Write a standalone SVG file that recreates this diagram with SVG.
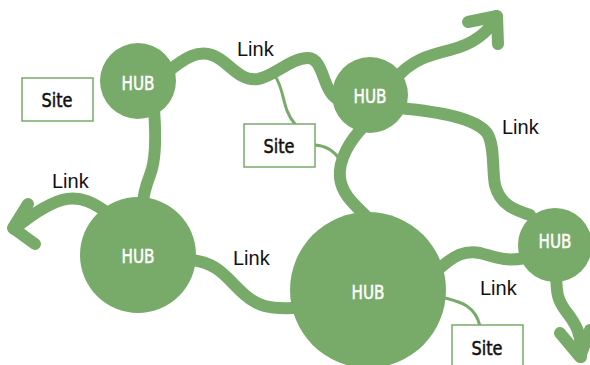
<svg xmlns="http://www.w3.org/2000/svg" width="590" height="365" viewBox="0 0 590 365">
<style>
.lk{fill:none;stroke:#78ab69;stroke-width:12;stroke-linecap:round;stroke-linejoin:round}
.th{fill:none;stroke:#78ab69;stroke-width:3;stroke-linecap:round}
.hub{fill:#78ab69}
.ht{fill:#fff;stroke:#fff;stroke-width:0.5;font-family:"DejaVu Sans Condensed","DejaVu Sans",sans-serif;font-size:20px;text-anchor:middle}
.box{fill:#fff;stroke:#78ab69;stroke-width:1.5}
.st{fill:#111;stroke:#111;stroke-width:0.5;font-family:"DejaVu Sans Condensed","DejaVu Sans",sans-serif;font-size:20px;text-anchor:middle}
.lt{fill:#111;font-family:"Liberation Sans",Arial,sans-serif;font-size:20px}
</style>
<rect width="590" height="365" fill="#fff"/>
<g id="connectors">
<path class="lk" d="M170,70 C185,58 198,50 212,55 C228,60 238,82 258,79 C275,76 290,58 308,58 C325,58 322,95 340,100"/>
<path class="lk" d="M154,110 C156,135 156,160 150,175 C145,188 143,195 143,205"/>
<path class="lk" d="M110,215 C95,203 80,195 62,200 C45,205 28,218 14,229"/>
<path class="lk" d="M28,204 L13,228 L35,244"/>
<path class="lk" d="M190,260 C225,262 232,290 255,302 C270,310 285,308 300,308"/>
<path class="lk" d="M365,125 C350,140 338,160 340,178 C342,195 355,205 370,220"/>
<path class="lk" d="M395,80 C410,60 430,55 450,50 C475,44 488,32 497,17"/>
<path class="lk" d="M468,22 L497,16 L498,44"/>
<path class="lk" d="M400,108 C440,112 475,118 487,133 C495,145 492,170 495,185 C500,205 515,210 530,215"/>
<path class="lk" d="M440,268 C455,255 465,250 480,253 C495,257 505,262 525,258"/>
<path class="lk" d="M556,275 C557,290 556,298 565,310 C577,325 582,335 581,357"/>
<path class="lk" d="M560,333 L580,357 L590,330"/>
<path class="th" d="M275,76 C285,90 282,110 295,124"/>
<path class="th" d="M315,145 C328,146 335,152 340,160"/>
<path class="th" d="M445,298 C460,302 475,305 480,326"/>
</g>
<g id="hub1"><circle class="hub" cx="138" cy="81" r="38"/><text class="ht" x="138" y="90" textLength="33" lengthAdjust="spacingAndGlyphs">HUB</text></g>
<g id="hub2"><circle class="hub" cx="370" cy="95" r="38"/><text class="ht" x="370" y="103" textLength="33" lengthAdjust="spacingAndGlyphs">HUB</text></g>
<g id="hub3"><circle class="hub" cx="138" cy="255" r="58"/><text class="ht" x="138" y="263" textLength="33" lengthAdjust="spacingAndGlyphs">HUB</text></g>
<g id="hub4"><circle class="hub" cx="368" cy="290" r="78"/><text class="ht" x="368" y="299" textLength="33" lengthAdjust="spacingAndGlyphs">HUB</text></g>
<g id="hub5"><circle class="hub" cx="555" cy="245" r="37"/><text class="ht" x="555" y="248" textLength="33" lengthAdjust="spacingAndGlyphs">HUB</text></g>
<g id="site1"><rect class="box" x="22" y="78" width="71" height="43"/><text class="st" x="57" y="107" textLength="31" lengthAdjust="spacingAndGlyphs">Site</text></g>
<g id="site2"><rect class="box" x="244" y="124" width="71" height="43"/><text class="st" x="279" y="153" textLength="31" lengthAdjust="spacingAndGlyphs">Site</text></g>
<g id="site3"><rect class="box" x="452" y="325" width="71" height="45"/><text class="st" x="487" y="355" textLength="31" lengthAdjust="spacingAndGlyphs">Site</text></g>
<g id="labels">
<text class="lt" x="237" y="56">Link</text>
<text class="lt" x="52" y="188">Link</text>
<text class="lt" x="233" y="265">Link</text>
<text class="lt" x="502" y="134">Link</text>
<text class="lt" x="480" y="295">Link</text>
</g>
</svg>
